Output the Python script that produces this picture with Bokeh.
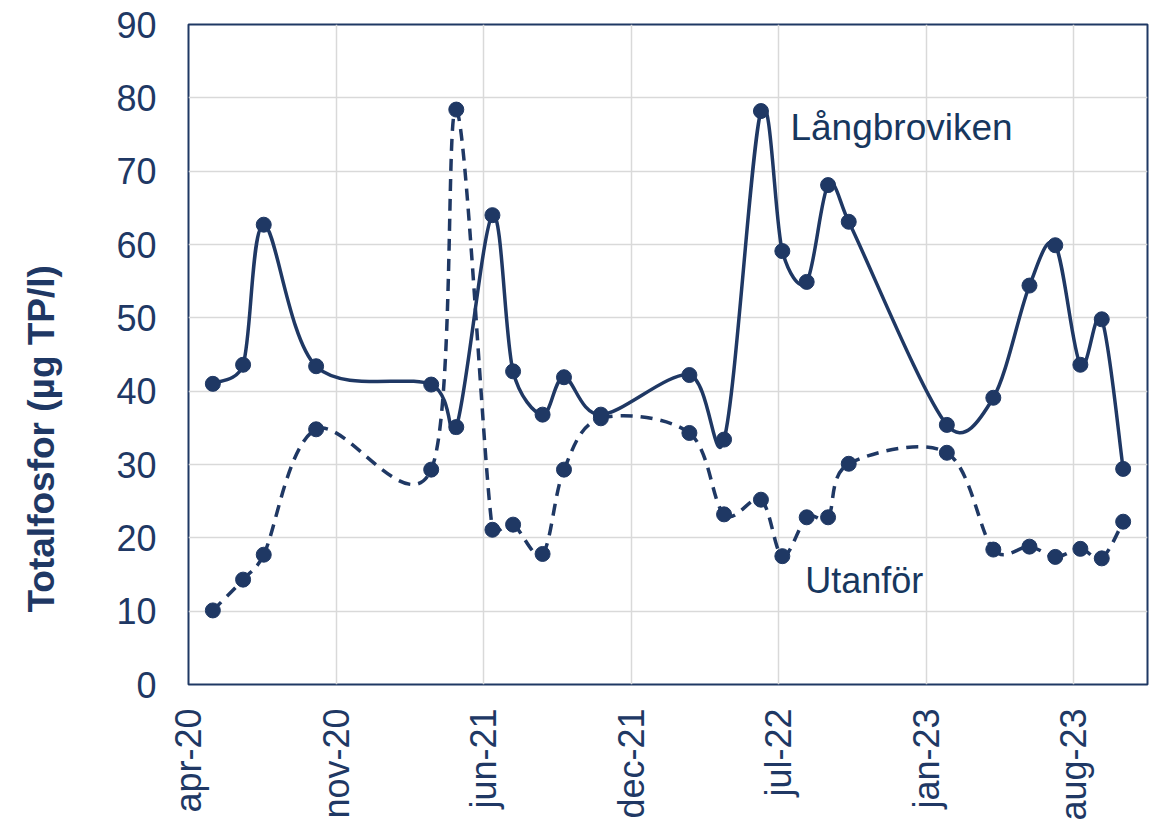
import numpy as np
import pandas as pd
from math import pi
from bokeh.plotting import figure
from bokeh.models import FixedTicker, Label, Range1d, ColumnDataSource, Title
from bokeh.embed import file_html
from bokeh.resources import INLINE

# ---- data ----
dates = ["2020-05-31", "2020-07-11", "2020-08-08", "2020-10-18", "2021-03-23",
         "2021-04-26", "2021-06-14", "2021-07-12", "2021-08-21", "2021-09-19",
         "2021-11-08", "2022-03-08", "2022-04-24", "2022-06-13", "2022-07-12",
         "2022-08-14", "2022-09-12", "2022-10-10", "2023-02-20", "2023-04-24",
         "2023-06-12", "2023-07-17", "2023-08-20", "2023-09-18", "2023-10-17"]
langbroviken = [41.0, 43.6, 62.7, 43.4, 40.9, 35.1, 64.0, 42.7, 36.8, 41.9,
                36.8, 42.2, 33.4, 78.2, 59.1, 54.9, 68.1, 63.1, 35.4, 39.1,
                54.4, 59.9, 43.6, 49.8, 29.4]
utanfor = [10.1, 14.3, 17.7, 34.8, 29.3, 78.4, 21.1, 21.8, 17.8, 29.3,
           36.3, 34.3, 23.2, 25.2, 17.5, 22.8, 22.8, 30.1, 31.6, 18.4,
           18.8, 17.4, 18.5, 17.2, 22.2]
tick_dates = ["2020-04-28", "2020-11-14", "2021-06-02", "2021-12-19",
              "2022-07-07", "2023-01-23", "2023-08-11"]
tick_labels = ["apr-20", "nov-20", "jun-21", "dec-21", "jul-22", "jan-23", "aug-23"]
x_end_date = "2023-11-19"
y_ticks = [0, 10, 20, 30, 40, 50, 60, 70, 80, 90]

NAVY = "#1F3864"
TEXT = "#203864"
FONT = "Liberation Sans"

W, H = 1149, 823
LEFT, RIGHT, TOP, BOTTOM = 188, 2, 24, 139


def to_ms(ds):
    return [float(v) for v in (pd.to_datetime(ds).astype("int64") // 10**6)]


xs = to_ms(dates)
tick_ms = to_ms(tick_dates)
x_end = to_ms([x_end_date])[0]

p = figure(width=W, height=H, x_axis_type="datetime",
           output_backend="svg", toolbar_location=None,
           x_range=Range1d(tick_ms[0], x_end), y_range=Range1d(0, 90),
           min_border_left=LEFT, min_border_right=RIGHT, min_border_top=TOP,
           min_border_bottom=BOTTOM)
p.background_fill_color = "white"
p.border_fill_color = "white"
p.outline_line_color = NAVY
p.outline_line_width = 2

# axes
p.xaxis.ticker = FixedTicker(ticks=tick_ms)
p.xaxis.major_label_overrides = {t: l for t, l in zip(tick_ms, tick_labels)}
p.xaxis.major_label_orientation = pi / 2
p.yaxis.ticker = FixedTicker(ticks=y_ticks)
for ax in (p.xaxis, p.yaxis):
    ax.axis_line_color = None
    ax.major_tick_line_color = None
    ax.minor_tick_line_color = None
    ax.major_tick_out = 0
    ax.major_tick_in = 0
    ax.major_label_text_font = FONT
    ax.major_label_text_font_size = "36px"
    ax.major_label_text_color = TEXT
p.yaxis.major_label_standoff = 32
p.xaxis.major_label_standoff = 24
# blank spacer between the tick labels and the axis title
p.yaxis.axis_label = "\u00a0"
p.yaxis.axis_label_text_font_size = "10px"
p.yaxis.axis_label_standoff = 31

p.xgrid.grid_line_color = "#D9D9D9"
p.ygrid.grid_line_color = "#D9D9D9"
p.xgrid.grid_line_width = 1.5
p.ygrid.grid_line_width = 1.5

# y axis title, placed low in the left margin as in the original
p.add_layout(Title(text="Totalfosfor (µg TP/l)", align="left", offset=72,
                   vertical_align="top", standoff=10,
                   text_font=FONT, text_font_size="37px", text_font_style="bold",
                   text_color=NAVY), "left")

# pixel scale of the frame (for an Excel-like smoothing in screen space)
frame_w = W - LEFT - RIGHT
frame_h = H - TOP - BOTTOM
px_x = frame_w / (x_end - tick_ms[0])
px_y = frame_h / 90.0


def smooth_segments(x, y):
    X = np.array(x) * px_x
    Y = np.array(y) * px_y
    n = len(X)
    seg = dict(x0=[], y0=[], x1=[], y1=[], cx0=[], cy0=[], cx1=[], cy1=[])

    def handle(i_prev, i, i_next, i_seg):
        tx, ty = (X[i_next] - X[i_prev]) / 6.0, (Y[i_next] - Y[i_prev]) / 6.0
        L = np.hypot(tx, ty)
        seg_len = np.hypot(X[i_seg] - X[i], Y[i_seg] - Y[i])
        lim = 0.5 * seg_len
        if L > lim and L > 0:
            tx, ty = tx * lim / L, ty * lim / L
        return tx, ty

    for i in range(n - 1):
        i0 = max(i - 1, 0)
        i3 = min(i + 2, n - 1)
        ax_, ay_ = handle(i0, i, i + 1, i + 1)
        bx_, by_ = handle(i, i + 1, i3, i)
        seg["x0"].append(x[i]); seg["y0"].append(y[i])
        seg["x1"].append(x[i + 1]); seg["y1"].append(y[i + 1])
        seg["cx0"].append((X[i] + ax_) / px_x)
        seg["cy0"].append((Y[i] + ay_) / px_y)
        seg["cx1"].append((X[i + 1] - bx_) / px_x)
        seg["cy1"].append((Y[i + 1] - by_) / px_y)
    return ColumnDataSource(seg)


p.bezier(x0="x0", y0="y0", x1="x1", y1="y1", cx0="cx0", cy0="cy0",
         cx1="cx1", cy1="cy1", source=smooth_segments(xs, utanfor),
         line_color=NAVY, line_width=3.5, line_dash="12 8")
p.bezier(x0="x0", y0="y0", x1="x1", y1="y1", cx0="cx0", cy0="cy0",
         cx1="cx1", cy1="cy1", source=smooth_segments(xs, langbroviken),
         line_color=NAVY, line_width=3.5)
p.scatter(xs, utanfor, size=15, marker="circle", fill_color=NAVY, line_color=NAVY)
p.scatter(xs, langbroviken, size=15, marker="circle", fill_color=NAVY, line_color=NAVY)

# series labels
p.add_layout(Label(x=to_ms(["2022-07-23"])[0], y=75.9, text="Långbroviken",
                   text_font=FONT, text_font_size="37px", text_color="#17375E",
                   text_align="left", text_baseline="alphabetic"))
p.add_layout(Label(x=to_ms(["2022-08-12"])[0], y=14.2, text="Utanför",
                   text_font=FONT, text_font_size="36px", text_color="#17375E",
                   text_align="left", text_baseline="alphabetic"))

open("out.html", "w").write(file_html(p, INLINE))
